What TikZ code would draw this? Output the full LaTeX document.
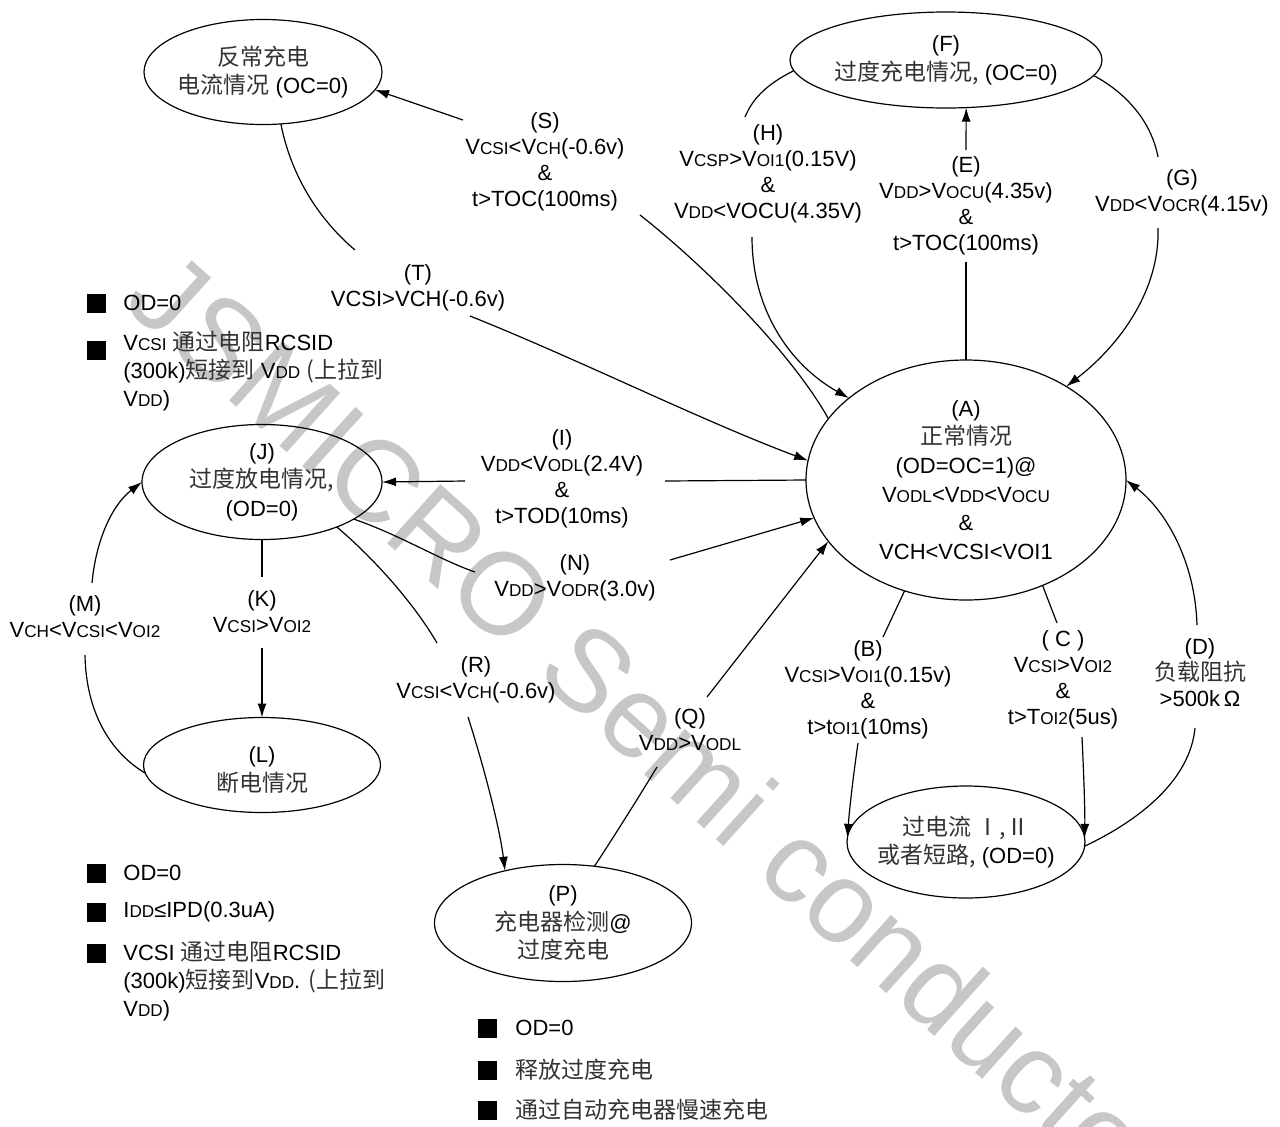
\documentclass[tikz,border=0pt]{standalone}
\usepackage{fontspec}
\setmainfont{Liberation Sans}
\newfontfamily\cjkfont{Noto Sans CJK SC}
\usetikzlibrary{arrows.meta,shapes.geometric}
\newcommand\zh[1]{{\cjkfont\fontsize{11.5}{13}\selectfont\color{black!80}#1}}
\newcommand\sm[1]{\scalebox{0.78}{#1}}
\begin{document}
\begin{tikzpicture}[x=0.5pt,y=-0.5pt,
  every node/.style={font=\fontsize{11}{13}\selectfont, inner sep=1.5pt},
  state/.style={draw, ellipse, line width=0.6pt, inner sep=0pt, outer sep=0pt},
  stxt/.style={align=center, inner sep=0pt, font=\fontsize{11}{14.3}\selectfont},
  lab/.style={align=center},
  con/.style={line width=0.6pt},
  arr/.style={con,-{Latex[length=7pt,width=4.5pt]}},
  bsq/.style={fill=black, minimum size=9.5pt, inner sep=0pt},
  btxt/.style={anchor=west, align=left, inner sep=0pt, font=\fontsize{11}{14}\selectfont},
  wm/.style={text=black!22, font=\fontsize{58}{58}\selectfont, inner sep=0pt}
]
\useasboundingbox (0,0) rectangle (1280,1126);

% watermark
\node[wm, anchor=mid west, rotate=-42] (wm) at (125,300) {JSMICRO Semi conductor};

% states
\node[state, minimum width=119pt, minimum height=52.5pt] (ocr) at (263,72) {};
\node[stxt] (ocrt) at (ocr) {\zh{反常充电}\\\zh{电流情况} (OC=0)};
\node[state, minimum width=156pt, minimum height=48pt] (F) at (946,60) {};
\node[stxt] (Ft) at (F) {(F)\\\zh{过度充电情况,} (OC=0)};
\node[state, minimum width=160pt, minimum height=120pt] (A) at (966,480) {};
\node[stxt] (At) at (A) {(A)\\\zh{正常情况}\\(OD=OC=1)@\\V\sm{ODL}<V\sm{DD}<V\sm{OCU}\\\&\\VCH<VCSI<VOI1};
\node[state, minimum width=120pt, minimum height=57.5pt] (J) at (262,482) {};
\node[stxt] (Jt) at (J) {(J)\\\zh{过度放电情况,}\\(OD=0)};
\node[state, minimum width=118.5pt, minimum height=47.5pt] (L) at (262,765) {};
\node[stxt] (Lt) at (262,770) {(L)\\\zh{断电情况}};
\node[state, minimum width=128.5pt, minimum height=58.5pt] (P) at (563,923) {};
\node[stxt] (Pt) at (P) {(P)\\\zh{充电器检测}@\\\zh{过度充电}};
\node[state, minimum width=119pt, minimum height=56pt] (oc) at (966,842) {};
\node[stxt] (oct) at (oc) {\zh{过电流 Ⅰ,Ⅱ}\\\zh{或者短路,} (OD=0)};

% labels
\node[lab] (S) at (545,162) {(S)\\V\sm{CSI}<V\sm{CH}(-0.6v)\\\&\\t>TOC(100ms)};
\node[lab] (T) at (418,288) {(T)\\VCSI>VCH(-0.6v)};
\node[lab] (H) at (768,174) {(H)\\V\sm{CSP}>V\sm{OI1}(0.15V)\\\&\\V\sm{DD}<VOCU(4.35V)};
\node[lab] (E) at (966,206) {(E)\\V\sm{DD}>V\sm{OCU}(4.35v)\\\&\\t>TOC(100ms)};
\node[lab] (G) at (1182,193) {(G)\\V\sm{DD}<V\sm{OCR}(4.15v)};
\node[lab] (I) at (562,479) {(I)\\V\sm{DD}<V\sm{ODL}(2.4V)\\\&\\t>TOD(10ms)};
\node[lab] (N) at (575,578) {(N)\\V\sm{DD}>V\sm{ODR}(3.0v)};
\node[lab] (R) at (476,680) {(R)\\V\sm{CSI}<V\sm{CH}(-0.6v)};
\node[lab] (Q) at (690,730) {(Q)\\V\sm{DD}>V\sm{ODL}};
\node[lab] (K) at (262,612) {(K)\\V\sm{CSI}>V\sm{OI2}};
\node[lab] (M) at (85,617) {(M)\\V\sm{CH}<V\sm{CSI}<V\sm{OI2}};
\node[lab] (B) at (868,690) {(B)\\V\sm{CSI}>V\sm{OI1}(0.15v)\\\&\\t>t\sm{OI1}(10ms)};
\node[lab] (C) at (1063,680) {( C )\\V\sm{CSI}>V\sm{OI2}\\\&\\t>T\sm{OI2}(5us)};
\node[lab] (D) at (1200,673) {(D)\\\zh{负载阻抗}\\>500k\,Ω};

% gap coordinates
\coordinate (s1) at (640,215); \coordinate (s2) at (463,120);
\coordinate (t1) at (355,250); \coordinate (t2) at (470,316);
\coordinate (h1) at (745,117); \coordinate (h2) at (752,237);
\coordinate (e1) at (966,262); \coordinate (e2) at (966,150);
\coordinate (g1) at (1158,157); \coordinate (g2) at (1158,228);
\coordinate (i1) at (665,481); \coordinate (i2) at (465,481);
\coordinate (n1) at (475,572); \coordinate (n2) at (670,560);
\coordinate (r1) at (437,643); \coordinate (r2) at (468,717);
\coordinate (q1) at (657,767); \coordinate (q2) at (707,697);
\coordinate (b1) at (883,637); \coordinate (b2) at (858,743);
\coordinate (c1) at (1057,623); \coordinate (c2) at (1082,737);
\coordinate (d1) at (1195,728); \coordinate (d2) at (1197,625);
\coordinate (k1) at (262,577); \coordinate (k2) at (262,648);
\coordinate (m1) at (85,655); \coordinate (m2) at (92,583);

% connectors
\draw[con] (A.156) .. controls (790,350) and (700,262) .. (s1);
\draw[arr] (s2) -- (ocr.-9);
\draw[con] (ocr.-71) .. controls (292,180) and (322,222) .. (t1);
\draw[arr] (t2) .. controls (580,360) and (700,420) .. (A.173);
\draw[con] (F.184) .. controls (765,85) and (752,100) .. (h1);
\draw[arr] (h2) .. controls (752,310) and (790,365) .. (A.145);
\draw[con] (A.north) -- (e1);
\draw[arr] (e2) -- (F.-67);
\draw[con] (F.-6) .. controls (1130,95) and (1152,125) .. (g1);
\draw[arr] (g2) .. controls (1160,290) and (1120,345) .. (A.43);
\draw[con] (A.west) -- (i1);
\draw[arr] (i2) -- (J.east);
\draw[con] (J.-22) .. controls (400,535) and (440,560) .. (n1);
\draw[arr] (n2) -- (A.-166);
\draw[con] (J.-31) .. controls (370,555) and (412,600) .. (r1);
\draw[arr] (r2) .. controls (485,770) and (500,830) .. (P.138);
\draw[con] (P.61) .. controls (615,835) and (640,795) .. (q1);
\draw[arr] (q2) -- (A.-156);
\draw[con] (A.-119) -- (b1);
\draw[arr] (b2) .. controls (852,785) and (849,815) .. (oc.178);
\draw[con] (A.-54) -- (c1);
\draw[arr] (c2) .. controls (1084,780) and (1085,810) .. (oc.2);
\draw[con] (oc.-2) .. controls (1140,820) and (1190,780) .. (d1);
\draw[arr] (d2) .. controls (1195,560) and (1165,510) .. (A.east);
\draw[con] (J.south) -- (k1);
\draw[arr] (k2) -- (L.north);
\draw[con] (L.184) .. controls (110,752) and (86,712) .. (m1);
\draw[arr] (m2) .. controls (96,540) and (112,505) .. (J.180);

% bullet notes, upper left
\node[bsq] (q11) at (96,303) {};
\node[btxt] (n11) at (123,303) {OD=0};
\node[bsq] (q12) at (96,350) {};
\node[btxt] (n12) at (123,371) {V\sm{CSI} \zh{通过电阻}RCSID\\(300k)\zh{短接到} V\sm{DD} \zh{(上拉到}\\V\sm{DD})};
% bullet notes, lower left
\node[bsq] (q21) at (96,873) {};
\node[btxt] (n21) at (123,873) {OD=0};
\node[bsq] (q22) at (96,912) {};
\node[btxt] (n22) at (123,912) {I\sm{DD}≤IPD(0.3uA)};
\node[bsq] (q23) at (96,953) {};
\node[btxt] (n23) at (123,981) {VCSI \zh{通过电阻}RCSID\\(300k)\zh{短接到}V\sm{DD}. \zh{(上拉到}\\V\sm{DD})};
% bullet notes, bottom
\node[bsq] (q31) at (487,1028) {};
\node[btxt] (n31) at (515,1028) {OD=0};
\node[bsq] (q32) at (487,1070) {};
\node[btxt] (n32) at (515,1070) {\zh{释放过度充电}};
\node[bsq] (q33) at (487,1110) {};
\node[btxt] (n33) at (515,1110) {\zh{通过自动充电器慢速充电}};
\end{tikzpicture}
\end{document}
